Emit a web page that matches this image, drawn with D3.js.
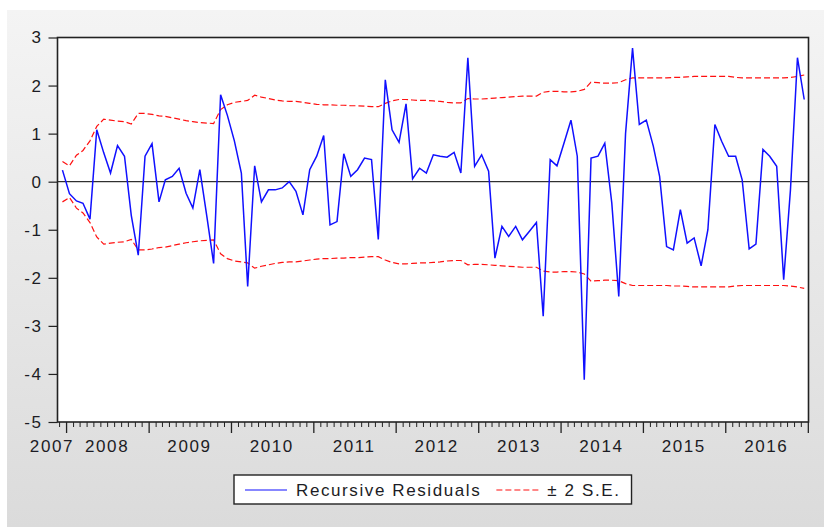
<!DOCTYPE html>
<html>
<head>
<meta charset="utf-8">
<script src="https://cdn.jsdelivr.net/npm/d3@7"></script>
<style>
  body { margin: 0; background: #fff; }
  text { font-family: "Liberation Sans", Arial, sans-serif; font-size: 17px; letter-spacing: 1.6px; fill: #1c1c24; }
</style>
</head>
<body>
<script>

// recursive residuals, monthly 2007M12 - 2016M12
const residuals = [
  0.24, -0.25, -0.40, -0.45, -0.78, 1.08, 0.60, 0.18, 0.75, 0.53,
  -0.70, -1.53, 0.53, 0.79, -0.42, 0.04, 0.11, 0.28, -0.24, -0.55,
  0.25, -0.72, -1.70, 1.81, 1.38, 0.85, 0.18, -2.18, 0.33, -0.42,
  -0.17, -0.17, -0.13, 0.00, -0.20, -0.69, 0.25, 0.53, 0.96, -0.90,
  -0.83, 0.58, 0.11, 0.25, 0.49, 0.46, -1.20, 2.12, 1.08, 0.82,
  1.62, 0.06, 0.28, 0.18, 0.56, 0.53, 0.51, 0.61, 0.18, 2.58,
  0.32, 0.56, 0.22, -1.59, -0.93, -1.14, -0.93, -1.21, -1.03, -0.85,
  -2.80, 0.46, 0.33, 0.80, 1.28, 0.53, -4.12, 0.49, 0.53, 0.80,
  -0.44, -2.39, 1.00, 2.78, 1.19, 1.28, 0.74, 0.11, -1.35, -1.42,
  -0.58, -1.28, -1.17, -1.75, -1.00, 1.19, 0.84, 0.53, 0.53, 0.04,
  -1.40, -1.30, 0.67, 0.53, 0.32, -2.04, -0.17, 2.58, 1.71
];

// two standard errors (band is +/- this)
const se2 = [
  0.42, 0.33, 0.55, 0.65, 0.85, 1.15, 1.30, 1.28, 1.26, 1.25,
  1.20, 1.42, 1.42, 1.40, 1.37, 1.36, 1.33, 1.30, 1.27, 1.25,
  1.23, 1.22, 1.21, 1.50, 1.60, 1.65, 1.67, 1.69, 1.80, 1.76,
  1.73, 1.70, 1.68, 1.67, 1.67, 1.65, 1.63, 1.61, 1.60, 1.60,
  1.59, 1.59, 1.58, 1.58, 1.57, 1.56, 1.56, 1.63, 1.68, 1.71,
  1.71, 1.70, 1.69, 1.69, 1.68, 1.67, 1.65, 1.64, 1.64, 1.73,
  1.72, 1.72, 1.73, 1.74, 1.75, 1.76, 1.77, 1.78, 1.78, 1.78,
  1.86, 1.88, 1.88, 1.87, 1.87, 1.88, 1.92, 2.07, 2.06, 2.05,
  2.05, 2.06, 2.12, 2.16, 2.16, 2.16, 2.16, 2.16, 2.16, 2.17,
  2.17, 2.18, 2.19, 2.19, 2.19, 2.19, 2.19, 2.19, 2.17, 2.16,
  2.16, 2.16, 2.16, 2.16, 2.16, 2.16, 2.17, 2.19, 2.22
];

const yearLabels = ["2007", "2008", "2009", "2010", "2011", "2012", "2013", "2014", "2015", "2016"];
const yTicks = [-5, -4, -3, -2, -1, 0, 1, 2, 3];
const legendNames = ["Recursive Residuals", "\u00b1 2 S.E."];

const width = 824, height = 527;
const plot = {left: 57.5, right: 808.5, top: 37.5, bottom: 422};

const dates = residuals.map((d, i) => new Date(2007, 11 + i, 16));

const svg = d3.select("body").append("svg")
  .attr("width", width)
  .attr("height", height);

// grey panel with a soft vertical gradient
const grad = svg.append("defs").append("linearGradient")
  .attr("id", "bg").attr("x1", 0).attr("y1", 0).attr("x2", 0).attr("y2", 1);
grad.append("stop").attr("offset", "0%").attr("stop-color", "#f4f4f4");
grad.append("stop").attr("offset", "100%").attr("stop-color", "#dbdbdb");

svg.append("rect")
  .attr("x", 7).attr("y", 10)
  .attr("width", width - 7).attr("height", height - 10)
  .attr("fill", "url(#bg)");

const x = d3.scaleTime()
  .domain([new Date(2007, 10, 24), new Date(2017, 0, 4)])
  .range([plot.left, plot.right]);

const y = d3.scaleLinear()
  .domain([-5, 3])
  .range([plot.bottom, plot.top]);

svg.append("rect")
  .attr("x", plot.left).attr("y", plot.top)
  .attr("width", plot.right - plot.left).attr("height", plot.bottom - plot.top)
  .attr("fill", "#fff");

// y axis
const yAxis = svg.append("g")
  .attr("transform", `translate(${plot.left},0)`)
  .call(d3.axisLeft(y).tickValues(yTicks).tickSize(9).tickPadding(6).tickFormat(d => String(d)));
yAxis.select(".domain").remove();
yAxis.selectAll("line").attr("stroke", "#222").attr("stroke-width", 1.2);
yAxis.selectAll("text").attr("font-size", null).attr("font-family", null).attr("fill", null);

// x axis: monthly minor ticks, yearly major ticks
const months = d3.timeMonth.range(x.domain()[0], x.domain()[1]);
const minor = svg.append("g")
  .attr("transform", `translate(0,${plot.bottom})`)
  .call(d3.axisBottom(x).tickValues(months.filter(m => m.getMonth() !== 0)).tickSize(5).tickFormat(""));
minor.select(".domain").remove();
minor.selectAll("line").attr("stroke", "#222");

const major = svg.append("g")
  .attr("transform", `translate(0,${plot.bottom})`)
  .call(d3.axisBottom(x).tickValues(months.filter(m => m.getMonth() === 0)).tickSize(11).tickFormat(""));
major.select(".domain").remove();
major.selectAll("line").attr("stroke", "#222").attr("stroke-width", 1.3);

// year labels centred on each year's span
svg.append("g").selectAll("text")
  .data(yearLabels)
  .enter().append("text")
    .attr("x", (d, i) => i === 0
      ? x(new Date(+d + 1, 0, 1)) + 8
      : x(new Date(+d, 6, 1)))
    .attr("y", 452)
    .attr("text-anchor", (d, i) => i === 0 ? "end" : "middle")
    .text(d => d);

// zero line
svg.append("line")
  .attr("x1", plot.left).attr("x2", plot.right)
  .attr("y1", y(0)).attr("y2", y(0))
  .attr("stroke", "#000").attr("stroke-width", 1);

const line = d3.line()
  .x(d => x(d[0]))
  .y(d => y(d[1]));

const upper = dates.map((d, i) => [d, se2[i]]);
const lower = dates.map((d, i) => [d, -se2[i]]);
const resid = dates.map((d, i) => [d, residuals[i]]);

svg.selectAll(".band")
  .data([upper, lower])
  .enter().append("path")
    .attr("class", "band")
    .attr("d", line)
    .attr("fill", "none")
    .attr("stroke", "#ff1010")
    .attr("stroke-width", 1.2)
    .attr("stroke-dasharray", "6,3");

svg.append("path")
  .attr("d", line(resid))
  .attr("fill", "none")
  .attr("stroke", "#1010ff")
  .attr("stroke-width", 1.5);

// frame
svg.append("rect")
  .attr("x", plot.left).attr("y", plot.top)
  .attr("width", plot.right - plot.left).attr("height", plot.bottom - plot.top)
  .attr("fill", "none")
  .attr("stroke", "#222")
  .attr("stroke-width", 1.6);

// legend
const legend = svg.append("g");
const box = legend.append("rect")
  .attr("fill", "#fff")
  .attr("stroke", "#222")
  .attr("stroke-width", 1.4);

let cx = 0;
legendNames.forEach((name, i) => {
  const g = legend.append("g").attr("transform", `translate(${cx},0)`);
  g.append("line")
    .attr("x1", 0).attr("x2", 42).attr("y1", 0).attr("y2", 0)
    .attr("stroke", i === 0 ? "#1010ff" : "#ff1010")
    .attr("stroke-width", 1.2)
    .attr("stroke-dasharray", i === 0 ? null : "6,3");
  const t = g.append("text")
    .attr("x", 51).attr("y", 6)
    .text(name);
  cx += 51 + t.node().getComputedTextLength() + 15;
});
const legW = cx - 15;
const legX = Math.round((plot.left + plot.right) / 2 - (legW + 22) / 2);
legend.attr("transform", `translate(${legX + 11},490)`);
box.attr("x", -11).attr("y", -15).attr("width", legW + 22).attr("height", 29);

</script>
</body>
</html>
